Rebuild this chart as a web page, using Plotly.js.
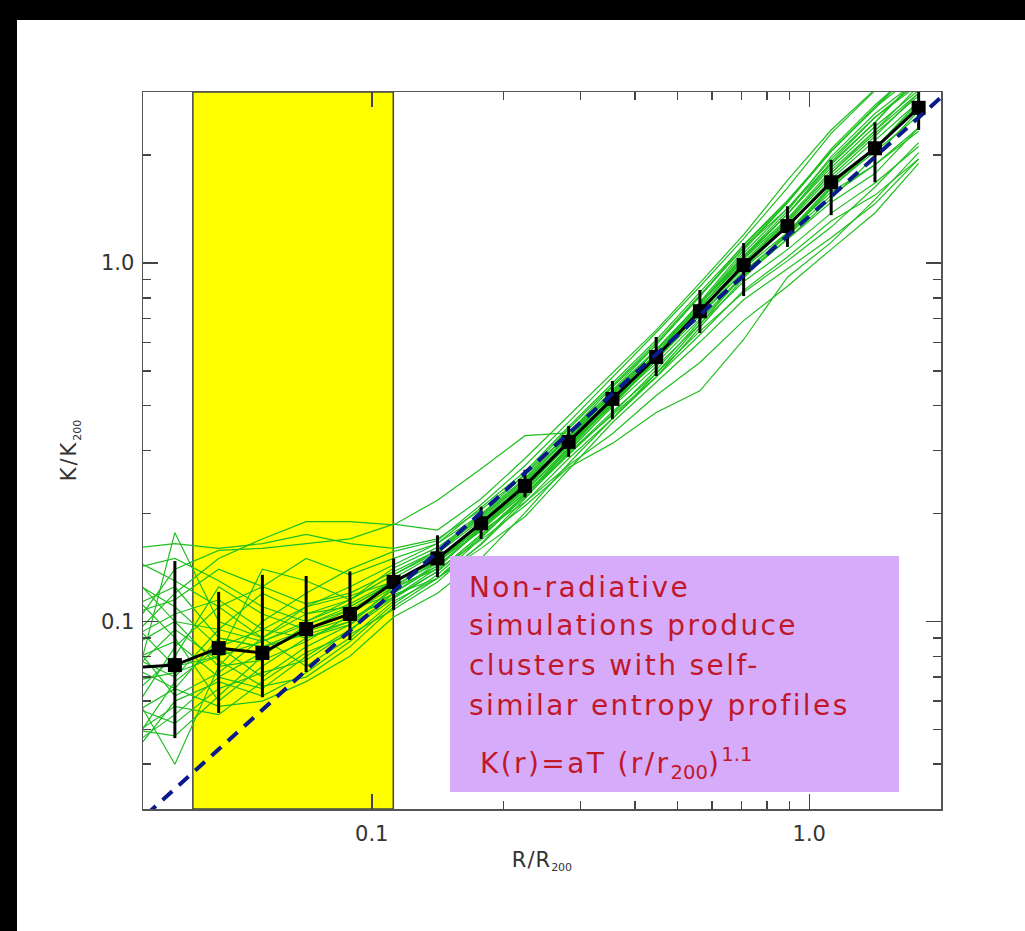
<!DOCTYPE html>
<html>
<head>
<meta charset="utf-8">
<script src="https://cdn.plot.ly/plotly-3.0.1.min.js"></script>
<style>
  html, body { margin: 0; padding: 0; background: #000; width: 1025px; height: 931px; overflow: hidden; }
  #chart { position: absolute; left: 17px; top: 20px; width: 1008px; height: 911px; background: #fff; }
</style>
</head>
<body>
<div id="chart"></div>
<script>
// Radial bins (R/R200), log-spaced bin centres
const radius = [0.02818, 0.03548, 0.04467, 0.05623, 0.07079, 0.08913, 0.1122, 0.1413, 0.1778, 0.2239,
                0.2818, 0.3548, 0.4467, 0.5623, 0.7079, 0.8913, 1.122, 1.413, 1.778];

// Mean profile K/K200 and its scatter (top / bottom of the error bars)
const meanK   = [0.0744, 0.0756, 0.0843, 0.0817, 0.0953, 0.105, 0.129, 0.150, 0.188, 0.239,
                 0.317, 0.418, 0.547, 0.734, 0.987, 1.268, 1.68, 2.09, 2.71];
const meanTop = [0.0744, 0.1475, 0.121, 0.135, 0.134, 0.138, 0.150, 0.174, 0.209, 0.265,
                 0.351, 0.469, 0.622, 0.841, 1.137, 1.44, 1.94, 2.47, 3.1];
const meanBot = [0.0744, 0.0473, 0.0556, 0.0615, 0.0723, 0.0888, 0.1076, 0.133, 0.170, 0.222,
                 0.288, 0.367, 0.484, 0.638, 0.809, 1.109, 1.36, 1.68, 2.35];

// Self-similar baseline K = aT (r/r200)^1.1, end points
const baseX = [0.028, 2.1];
const baseY = [0.0263, 3.06];

// Shaded core region
const coreRegion = [0.039, 0.112];

// Individual simulated clusters (K/K200 at each radial bin)
const cl01 = [0.060, 0.177, 0.100, 0.090, 0.105, 0.115, 0.135, 0.156, 0.196, 0.246, 0.327, 0.435, 0.574, 0.771, 1.046, 1.369, 1.848, 2.404, 3.035];
const cl02 = [0.095, 0.140, 0.158, 0.160, 0.165, 0.170, 0.187, 0.180, 0.220, 0.285, 0.375, 0.495, 0.650, 0.880, 1.200, 1.700, 2.350, 3.050, 3.700];
const cl03 = [0.120, 0.090, 0.060, 0.075, 0.090, 0.100, 0.120, 0.143, 0.182, 0.232, 0.304, 0.405, 0.536, 0.712, 0.948, 1.192, 1.546, 1.881, 2.385];
const cl04 = [0.045, 0.055, 0.070, 0.065, 0.080, 0.095, 0.116, 0.138, 0.175, 0.225, 0.295, 0.385, 0.492, 0.646, 0.829, 1.014, 1.260, 1.630, 2.168];
const cl05 = [0.080, 0.070, 0.095, 0.120, 0.105, 0.110, 0.129, 0.150, 0.190, 0.239, 0.323, 0.431, 0.558, 0.763, 1.046, 1.395, 1.982, 2.613, 3.252];
const cl06 = [0.130, 0.110, 0.085, 0.070, 0.085, 0.098, 0.125, 0.147, 0.184, 0.237, 0.311, 0.405, 0.542, 0.734, 0.967, 1.268, 1.714, 2.195, 2.818];
const cl07 = [0.065, 0.040, 0.075, 0.100, 0.120, 0.140, 0.157, 0.168, 0.212, 0.272, 0.360, 0.480, 0.640, 0.860, 1.170, 1.620, 2.300, 3.030, 3.740];
const cl08 = [0.055, 0.085, 0.110, 0.090, 0.075, 0.090, 0.114, 0.132, 0.164, 0.215, 0.285, 0.368, 0.481, 0.631, 0.839, 1.040, 1.310, 1.547, 1.951];
const cl09 = [0.100, 0.075, 0.080, 0.140, 0.130, 0.115, 0.135, 0.158, 0.199, 0.251, 0.336, 0.451, 0.591, 0.807, 1.125, 1.496, 2.050, 2.717, 3.388];
const cl10 = [0.042, 0.060, 0.068, 0.062, 0.072, 0.088, 0.112, 0.135, 0.173, 0.222, 0.292, 0.380, 0.503, 0.690, 0.918, 1.167, 1.478, 1.777, 2.385];
const cl11 = [0.140, 0.150, 0.130, 0.110, 0.100, 0.115, 0.141, 0.161, 0.197, 0.249, 0.330, 0.426, 0.558, 0.756, 1.007, 1.319, 1.781, 2.299, 2.927];
const cl12 = [0.090, 0.120, 0.150, 0.170, 0.190, 0.190, 0.186, 0.218, 0.267, 0.330, 0.336, 0.431, 0.569, 0.771, 1.066, 1.420, 1.949, 2.550, 3.198];
const cl13 = [0.075, 0.065, 0.090, 0.085, 0.095, 0.105, 0.125, 0.140, 0.169, 0.210, 0.269, 0.314, 0.383, 0.440, 0.612, 0.913, 1.142, 1.505, 2.033];
const cl14 = [0.050, 0.048, 0.062, 0.080, 0.098, 0.110, 0.128, 0.150, 0.186, 0.239, 0.314, 0.418, 0.552, 0.749, 1.026, 1.369, 1.915, 2.550, 3.144];
const cl15 = [0.110, 0.125, 0.090, 0.085, 0.092, 0.100, 0.123, 0.143, 0.180, 0.229, 0.307, 0.410, 0.525, 0.697, 0.928, 1.167, 1.512, 1.986, 2.656];
const cl16 = [0.085, 0.100, 0.075, 0.078, 0.088, 0.104, 0.132, 0.155, 0.192, 0.241, 0.323, 0.422, 0.547, 0.727, 0.997, 1.306, 1.781, 2.341, 3.117];
const cl17 = [0.062, 0.080, 0.125, 0.105, 0.095, 0.108, 0.126, 0.146, 0.184, 0.234, 0.311, 0.414, 0.558, 0.778, 1.086, 1.471, 2.083, 2.759, 3.523];
const cl18 = [0.048, 0.058, 0.055, 0.068, 0.082, 0.092, 0.108, 0.129, 0.165, 0.220, 0.298, 0.401, 0.536, 0.727, 0.967, 1.217, 1.579, 1.881, 2.331];
const cl19 = [0.090, 0.105, 0.115, 0.095, 0.110, 0.125, 0.144, 0.165, 0.208, 0.262, 0.350, 0.462, 0.610, 0.830, 1.120, 1.480, 2.050, 2.700, 3.580];
const cl20 = [0.068, 0.072, 0.080, 0.088, 0.100, 0.112, 0.130, 0.149, 0.182, 0.227, 0.295, 0.376, 0.481, 0.661, 0.908, 1.205, 1.630, 2.048, 2.575];
const cl21 = [0.105, 0.115, 0.140, 0.125, 0.112, 0.120, 0.138, 0.158, 0.194, 0.244, 0.320, 0.418, 0.547, 0.719, 0.948, 1.192, 1.613, 2.090, 2.818];
const cl22 = [0.058, 0.052, 0.065, 0.072, 0.078, 0.094, 0.120, 0.146, 0.188, 0.244, 0.330, 0.443, 0.591, 0.807, 1.105, 1.471, 2.050, 2.717, 3.631];
const cl23 = [0.078, 0.088, 0.070, 0.082, 0.094, 0.102, 0.117, 0.138, 0.175, 0.225, 0.301, 0.397, 0.514, 0.675, 0.888, 1.090, 1.378, 1.672, 2.114];
const cl24 = [0.150, 0.130, 0.110, 0.125, 0.150, 0.135, 0.150, 0.165, 0.199, 0.258, 0.345, 0.455, 0.600, 0.815, 1.100, 1.420, 1.900, 2.470, 3.310];
const cl25 = [0.045, 0.068, 0.085, 0.095, 0.090, 0.098, 0.117, 0.141, 0.182, 0.237, 0.314, 0.414, 0.547, 0.734, 0.987, 1.293, 1.747, 2.257, 2.981];
const cl26 = [0.072, 0.095, 0.078, 0.066, 0.070, 0.085, 0.110, 0.132, 0.171, 0.225, 0.304, 0.410, 0.547, 0.749, 1.036, 1.369, 1.882, 2.466, 3.306];
const cl27 = [0.160, 0.165, 0.160, 0.165, 0.175, 0.165, 0.160, 0.170, 0.205, 0.256, 0.336, 0.439, 0.574, 0.771, 1.026, 1.331, 1.814, 2.341, 2.981];
const cl28 = [0.055, 0.065, 0.058, 0.060, 0.068, 0.080, 0.103, 0.120, 0.150, 0.201, 0.276, 0.368, 0.492, 0.675, 0.928, 1.217, 1.646, 2.090, 2.764];
const cl29 = [0.088, 0.062, 0.072, 0.090, 0.110, 0.118, 0.129, 0.147, 0.179, 0.215, 0.273, 0.334, 0.427, 0.528, 0.691, 0.862, 1.092, 1.379, 1.897];
const cl30 = [0.135, 0.100, 0.095, 0.088, 0.098, 0.108, 0.119, 0.132, 0.160, 0.196, 0.266, 0.359, 0.465, 0.602, 0.790, 0.964, 1.176, 1.463, 1.951];
const clusters = [cl01, cl02, cl03, cl04, cl05, cl06, cl07, cl08, cl09, cl10, cl11, cl12, cl13, cl14, cl15,
                  cl16, cl17, cl18, cl19, cl20, cl21, cl22, cl23, cl24, cl25, cl26, cl27, cl28, cl29, cl30];

// Axis ticks
const xMajor = [0.1, 1];
const xMajorText = ['0.1', '1.0'];
const xMinor = [0.2, 0.3, 0.4, 0.5, 0.6, 0.7, 0.8, 0.9, 2];
const yMajor = [0.1, 1];
const yMajorText = ['0.1', '1.0'];
const yMinor = [0.04, 0.05, 0.06, 0.07, 0.08, 0.09, 0.2, 0.3, 0.4, 0.5, 0.6, 0.7, 0.8, 0.9, 2, 3];

// Text
const noteLines = ['Non-radiative', 'simulations produce', 'clusters with self-', 'similar entropy profiles'];
const sp = function (t) { return '<span style="letter-spacing:2.4px">' + t + '</span>'; };
const formula = sp('K(r)=aT (r/r') + '<sub>200</sub>' + sp(')') + '<sup>1.1</sup>';

const traces = [];
clusters.forEach(function (c) {
  traces.push({
    x: radius, y: c, type: 'scatter', mode: 'lines',
    line: { color: '#1fbf1f', width: 1.2 }, hoverinfo: 'skip'
  });
});
traces.push({
  x: radius, y: meanK, type: 'scatter', mode: 'lines+markers',
  line: { color: '#000', width: 3 },
  marker: { symbol: 'square', size: 14, color: '#000' },
  error_y: {
    type: 'data', symmetric: false,
    array: meanTop.map(function (t, i) { return t - meanK[i]; }),
    arrayminus: meanBot.map(function (b, i) { return meanK[i] - b; }),
    color: '#000', thickness: 3, width: 0
  }
});
traces.push({
  x: baseX, y: baseY, type: 'scatter', mode: 'lines',
  line: { color: '#0a1a8a', width: 4, dash: '13px,9px' }
});

const L = 143, R = 941, T = 92, B = 809;
function px(x) { return (x - L) / (R - L); }
function py(y) { return (B - y) / (B - T); }

const annotations = noteLines.map(function (t, i) {
  return {
    xref: 'paper', yref: 'paper', x: px(467), y: py([587, 625, 665, 705][i]),
    xanchor: 'left', yanchor: 'middle', showarrow: false, align: 'left',
    text: sp(t),
    font: { family: 'DejaVu Sans', size: 28, color: '#c0182a' }
  };
});
annotations.push({
  xref: 'paper', yref: 'paper', x: px(478), y: py(763), xanchor: 'left', yanchor: 'middle',
  showarrow: false, align: 'left', text: formula,
  font: { family: 'DejaVu Sans', size: 28, color: '#c0182a' }
});

const tickFont = { family: 'DejaVu Sans', size: 21, color: '#333' };
const titleFont = { family: 'DejaVu Sans', size: 21, color: '#333' };
const layout = {
  width: 1008, height: 911,
  margin: { l: 126, r: 84, t: 72, b: 122 },
  paper_bgcolor: '#fff', plot_bgcolor: '#fff',
  showlegend: false,
  xaxis: {
    type: 'log', range: [Math.log10(0.03), Math.log10(2)],
    tickmode: 'array', tickvals: xMajor, ticktext: xMajorText,
    ticks: 'inside', ticklen: 15, tickwidth: 1.5, tickcolor: '#444',
    minor: { tickmode: 'array', tickvals: xMinor, ticks: 'inside', ticklen: 8, tickwidth: 1.5, tickcolor: '#444', showgrid: false },
    showline: true, linecolor: '#555', linewidth: 1.5, mirror: 'ticks',
    showgrid: false, zeroline: false, tickfont: tickFont, ticklabelstandoff: 5,
    title: { text: '<span style="letter-spacing:1px">R/R</span><sub><span style="font-size:11px">200</span></sub>', font: titleFont, standoff: 7 }
  },
  yaxis: {
    type: 'log', range: [Math.log10(0.03), Math.log10(3)],
    tickmode: 'array', tickvals: yMajor, ticktext: yMajorText,
    ticks: 'inside', ticklen: 15, tickwidth: 1.5, tickcolor: '#444',
    minor: { tickmode: 'array', tickvals: yMinor, ticks: 'inside', ticklen: 8, tickwidth: 1.5, tickcolor: '#444', showgrid: false },
    showline: true, linecolor: '#555', linewidth: 1.5, mirror: 'ticks',
    showgrid: false, zeroline: false, tickfont: tickFont, ticklabelstandoff: 3,
    title: { text: '<span style="letter-spacing:2px">K/K</span><sub><span style="font-size:11px">200</span></sub>', font: titleFont, standoff: 18 }
  },
  shapes: [
    { type: 'rect', xref: 'x', yref: 'paper', x0: coreRegion[0], x1: coreRegion[1], y0: 0, y1: 1,
      fillcolor: '#ffff00', line: { color: '#444', width: 1.5 }, layer: 'below' },
    { type: 'rect', xref: 'paper', yref: 'paper', x0: px(450), x1: px(899), y0: py(792), y1: py(556),
      fillcolor: '#d6acfa', line: { width: 0 }, layer: 'above' }
  ],
  annotations: annotations
};

Plotly.newPlot('chart', traces, layout, { displayModeBar: false, staticPlot: true });
</script>
</body>
</html>
